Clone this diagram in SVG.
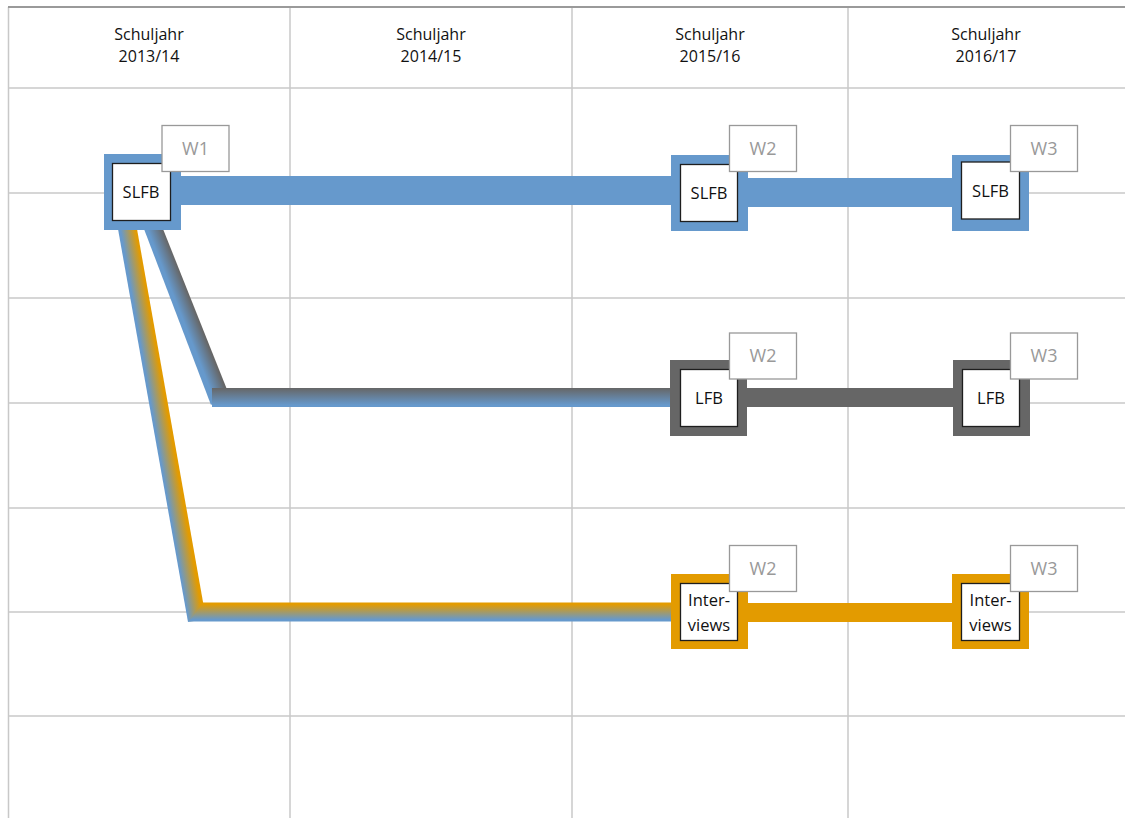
<svg xmlns="http://www.w3.org/2000/svg" width="1125" height="818" viewBox="0 0 1125 818">
<style>
.grid{stroke:#c8c8c8;stroke-width:1.5;fill:none}
.top{stroke:#9a9a9a;stroke-width:2}
.hdr{font-family:"Open Sans","Liberation Sans",sans-serif;font-size:16px;fill:#111;text-anchor:middle}
.in{fill:#fff;stroke:#1e1e1e;stroke-width:1.3}
.lbl{font-family:"Open Sans","Liberation Sans",sans-serif;font-size:16.5px;fill:#111;text-anchor:middle}
.wb{fill:#fff;stroke:#999;stroke-width:1.3}
.wt{font-family:"Open Sans","Liberation Sans",sans-serif;font-size:18px;fill:#999;text-anchor:middle}
.blue{fill:#6699cc}
.gray{fill:#666666}
.orange{fill:#e39b00}
</style>
<defs>
<linearGradient id="gDiagGray" gradientUnits="userSpaceOnUse" x1="176.6" y1="313.3" x2="193.4" y2="306.7">
<stop offset="0.2" stop-color="#6699cc"/><stop offset="1" stop-color="#666666"/>
</linearGradient>
<linearGradient id="gBarGray" x1="0" y1="0" x2="0" y2="1">
<stop offset="0" stop-color="#666666"/><stop offset="0.9" stop-color="#6699cc"/>
</linearGradient>
<linearGradient id="gDiagOr" gradientUnits="userSpaceOnUse" x1="152.8" y1="426.6" x2="171.2" y2="423.4">
<stop offset="0.1" stop-color="#6699cc"/><stop offset="0.9" stop-color="#e39b00"/>
</linearGradient>
<linearGradient id="gBarOr" x1="0" y1="0" x2="0" y2="1">
<stop offset="0.1" stop-color="#e39b00"/><stop offset="0.9" stop-color="#6699cc"/>
</linearGradient>
</defs>

<g id="grid">
<line class="grid" x1="8.5" y1="7" x2="8.5" y2="818"/>
<line class="grid" x1="290" y1="7" x2="290" y2="818"/>
<line class="grid" x1="572" y1="7" x2="572" y2="818"/>
<line class="grid" x1="848" y1="7" x2="848" y2="818"/>
<line class="grid" x1="8" y1="88" x2="1125" y2="88"/>
<line class="grid" x1="8" y1="193" x2="1125" y2="193"/>
<line class="grid" x1="8" y1="298" x2="1125" y2="298"/>
<line class="grid" x1="8" y1="403" x2="1125" y2="403"/>
<line class="grid" x1="8" y1="508" x2="1125" y2="508"/>
<line class="grid" x1="8" y1="612" x2="1125" y2="612"/>
<line class="grid" x1="8" y1="716" x2="1125" y2="716"/>
<line class="top" x1="8" y1="7" x2="1125" y2="7"/>
</g>

<g id="headers">
<text class="hdr" x="149" y="40">Schuljahr</text>
<text class="hdr" x="149" y="62">2013/14</text>
<text class="hdr" x="431" y="40">Schuljahr</text>
<text class="hdr" x="431" y="62">2014/15</text>
<text class="hdr" x="710" y="40">Schuljahr</text>
<text class="hdr" x="710" y="62">2015/16</text>
<text class="hdr" x="986" y="40">Schuljahr</text>
<text class="hdr" x="986" y="62">2016/17</text>
</g>

<g id="connectors">
<rect class="blue" x="178" y="176" width="496" height="29"/>
<rect class="blue" x="745" y="178" width="210" height="29"/>
<polygon points="144,229 163,229 228,392 211,405" fill="url(#gDiagGray)"/>
<rect x="212" y="388" width="460" height="19" fill="url(#gBarGray)"/>
<rect class="gray" x="744" y="388" width="212" height="19"/>
<polygon points="118,229 137,229 206,619 188,622" fill="url(#gDiagOr)"/>
<polygon points="203,602.5 672,602.5 672,621.5 189,621.5" fill="url(#gBarOr)"/>
<rect class="orange" x="745" y="603" width="210" height="19"/>
</g>

<g id="n-slfb1">
<rect class="blue" x="104" y="154" width="77" height="76"/>
<rect class="in" x="112.5" y="163.5" width="58" height="57"/>
<text class="lbl" x="141" y="198">SLFB</text>
<rect class="wb" x="162" y="125.5" width="67" height="46"/>
<text class="wt" x="195.5" y="155">W1</text>
</g>

<g id="n-slfb2">
<rect class="blue" x="671" y="155" width="77" height="76"/>
<rect class="in" x="680.5" y="164.5" width="57" height="57"/>
<text class="lbl" x="709" y="199">SLFB</text>
<rect class="wb" x="729.5" y="125.5" width="67" height="46"/>
<text class="wt" x="763" y="155">W2</text>
</g>

<g id="n-slfb3">
<rect class="blue" x="952" y="155" width="77" height="76"/>
<rect class="in" x="961.5" y="162" width="58" height="57"/>
<text class="lbl" x="990.5" y="197">SLFB</text>
<rect class="wb" x="1010.5" y="125.5" width="67" height="46"/>
<text class="wt" x="1044" y="155">W3</text>
</g>

<g id="n-lfb2">
<rect class="gray" x="670" y="360" width="77" height="76"/>
<rect class="in" x="680.5" y="369.5" width="57" height="57"/>
<text class="lbl" x="709" y="404">LFB</text>
<rect class="wb" x="729.5" y="333" width="67" height="46"/>
<text class="wt" x="763" y="362">W2</text>
</g>

<g id="n-lfb3">
<rect class="gray" x="953" y="360" width="77" height="76"/>
<rect class="in" x="962.5" y="369.5" width="57" height="57"/>
<text class="lbl" x="991" y="404">LFB</text>
<rect class="wb" x="1010.5" y="333" width="67" height="46"/>
<text class="wt" x="1044" y="362">W3</text>
</g>

<g id="n-int2">
<rect class="orange" x="671" y="574" width="77" height="75"/>
<rect class="in" x="680.5" y="583.5" width="57" height="57"/>
<text class="lbl" x="709" y="606">Inter-</text>
<text class="lbl" x="709" y="631">views</text>
<rect class="wb" x="729.5" y="545.5" width="67" height="46"/>
<text class="wt" x="763" y="575">W2</text>
</g>

<g id="n-int3">
<rect class="orange" x="952" y="574" width="77" height="75"/>
<rect class="in" x="961.5" y="583.5" width="58" height="57"/>
<text class="lbl" x="990.5" y="606">Inter-</text>
<text class="lbl" x="990.5" y="631">views</text>
<rect class="wb" x="1010.5" y="545.5" width="67" height="46"/>
<text class="wt" x="1044" y="575">W3</text>
</g>
</svg>
